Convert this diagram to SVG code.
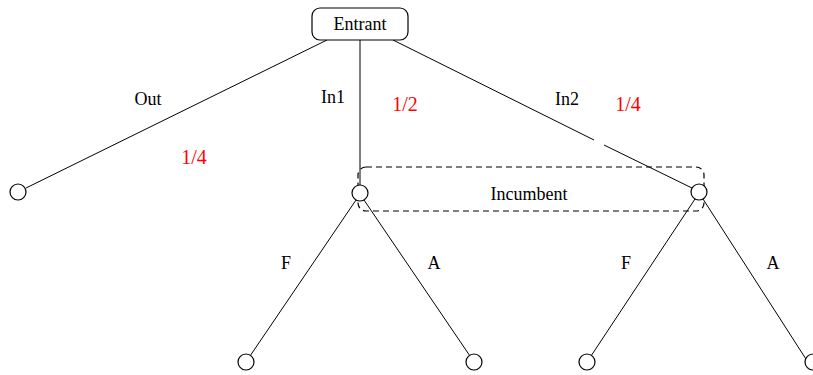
<svg xmlns="http://www.w3.org/2000/svg" width="813" height="375" viewBox="0 0 813 375" font-family="Liberation Serif">
<style>
.n{fill:#fff;stroke:#000;stroke-width:1.2}
.e{stroke:#000;stroke-width:1;fill:none}
.t{font-size:18px;fill:#000;text-anchor:middle}
.r{font-size:20px;fill:#f00;text-anchor:middle}
</style>
<rect width="813" height="375" fill="#fff"/>
<g id="connectors">
<line class="e" x1="327" y1="40" x2="26" y2="188"/>
<line class="e" x1="360" y1="40" x2="360" y2="185"/>
<line class="e" x1="393" y1="40" x2="594" y2="140"/>
<line class="e" x1="604" y1="145" x2="692" y2="188"/>
<line class="e" x1="356" y1="200" x2="250" y2="356"/>
<line class="e" x1="364" y1="200" x2="470" y2="356"/>
<line class="e" x1="695" y1="199" x2="591" y2="356"/>
<line class="e" x1="703" y1="199" x2="813" y2="370"/>
</g>
<g id="infoset">
<rect x="358" y="167" width="346" height="44" rx="8" fill="none" stroke="#000" stroke-width="1.2" stroke-dasharray="6,4"/>
<text class="t" x="529" y="200">Incumbent</text>
</g>
<g id="entrant">
<rect class="n" x="312" y="8" width="96" height="32" rx="8"/>
<text class="t" x="360" y="30">Entrant</text>
</g>
<g id="out"><circle class="n" cx="18" cy="192" r="8"/></g>
<g id="inc1"><circle class="n" cx="360" cy="193" r="8"/></g>
<g id="inc2"><circle class="n" cx="699" cy="192" r="8"/></g>
<g id="l1"><circle class="n" cx="246" cy="362" r="8"/></g>
<g id="l2"><circle class="n" cx="474" cy="362" r="8"/></g>
<g id="l3"><circle class="n" cx="587" cy="362" r="8"/></g>
<g id="l4"><circle class="n" cx="813" cy="362" r="8"/></g>
<g id="labels">
<text class="t" x="148" y="105">Out</text>
<text class="t" x="333" y="103">In1</text>
<text class="t" x="567" y="105">In2</text>
<text class="r" x="405" y="111">1/2</text>
<text class="r" x="628" y="111">1/4</text>
<text class="r" x="194" y="164">1/4</text>
<text class="t" x="286" y="269">F</text>
<text class="t" x="434" y="269">A</text>
<text class="t" x="626" y="269">F</text>
<text class="t" x="773" y="269">A</text>
</g>
</svg>
